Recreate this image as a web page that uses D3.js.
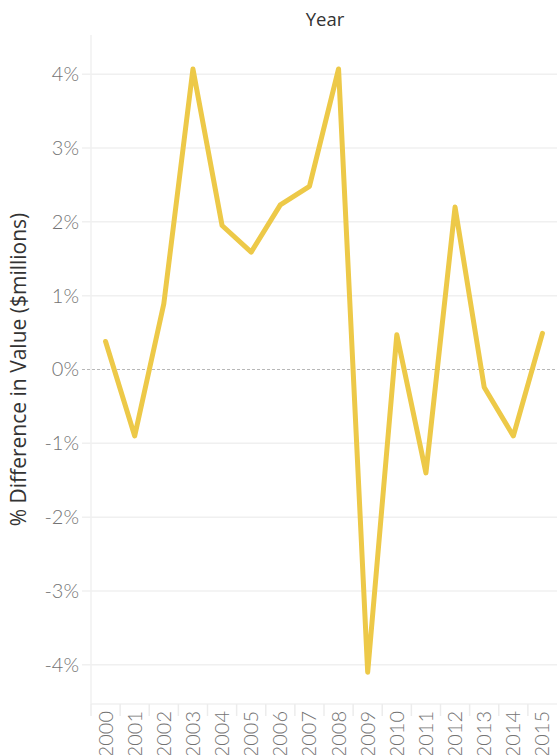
<!DOCTYPE html>
<html>
<head>
<meta charset="utf-8">
<script src="https://cdn.jsdelivr.net/npm/d3@7"></script>
<style>
  body { margin: 0; background: #fff; }
  svg { display: block; }
</style>
</head>
<body>
<svg id="canvas"></svg>
<script>
let years = ['2000','2001','2002','2003','2004','2005','2006','2007','2008','2009','2010','2011','2012','2013','2014','2015']
let pctDiff = [0.38, -0.90, 0.89, 4.07, 1.95, 1.59, 2.23, 2.48, 4.07, -4.10, 0.47, -1.40, 2.20, -0.24, -0.90, 0.49]
let yTicks = [-4, -3, -2, -1, 0, 1, 2, 3, 4]

let width = 557
let height = 755
let padLeft = 91
let padRight = 557
let padTop = 35
let padBottom = 704

let svg = d3.select('#canvas').attr('width', width).attr('height', height)

let xScale = d3.scaleBand().domain(years).range([padLeft, padRight]).padding(0)
let yScale = d3.scaleLinear().domain([-4.53, 4.53]).range([padBottom, padTop])

let xMid = (d) => xScale(d) + xScale.bandwidth() / 2

// gridlines
let grid = svg.append('g')
grid.selectAll('line.grid')
    .data(yTicks.filter((d) => d !== 0))
    .enter()
    .append('line')
    .attr('x1', padLeft - 9)
    .attr('x2', padRight)
    .attr('y1', (d) => yScale(d))
    .attr('y2', (d) => yScale(d))
    .attr('stroke', '#f0f0f0')
    .attr('stroke-width', 1.5)

grid.append('line')
    .attr('x1', padLeft - 9).attr('x2', padRight)
    .attr('y1', yScale(0)).attr('y2', yScale(0))
    .attr('stroke', '#b8b8b8')
    .attr('stroke-width', 1)
    .attr('stroke-dasharray', '3,2')

// left border of pane
svg.append('line')
    .attr('x1', padLeft).attr('x2', padLeft)
    .attr('y1', padTop).attr('y2', padBottom)
    .attr('stroke', '#f0f0f0')
    .attr('stroke-width', 1.5)

// y axis labels
let yAxis = d3.axisLeft(yScale)
    .tickValues(yTicks)
    .tickFormat((d) => d + '%')
    .tickSize(0)
    .tickPadding(12)

let yg = svg.append('g')
    .attr('transform', 'translate(' + padLeft + ',0)')
    .call(yAxis)
yg.select('.domain').remove()
yg.selectAll('text')
    .attr('font-family', 'Lato, sans-serif')
    .attr('font-weight', 300)
    .attr('font-size', 20)
    .attr('fill', '#737373')

// x axis header
let xAxis = d3.axisBottom(xScale).tickSize(0).tickPadding(0)
let xg = svg.append('g')
    .attr('transform', 'translate(0,' + padBottom + ')')
    .call(xAxis)
xg.select('.domain').remove()
xg.selectAll('text')
    .attr('font-family', 'Lato, sans-serif')
    .attr('font-weight', 300)
    .attr('font-size', 20)
    .attr('fill', '#737373')
    .attr('transform', 'rotate(-90)')
    .attr('text-anchor', 'end')
    .attr('dy', '0.35em')
    .attr('x', -7)
    .attr('y', 0)

svg.append('line')
    .attr('x1', padLeft).attr('x2', padRight)
    .attr('y1', padBottom).attr('y2', padBottom)
    .attr('stroke', '#f0f0f0')
    .attr('stroke-width', 1.5)

svg.append('g').selectAll('line')
    .data(years)
    .enter()
    .append('line')
    .attr('x1', (d) => xScale(d))
    .attr('x2', (d) => xScale(d))
    .attr('y1', padBottom)
    .attr('y2', padBottom + 12)
    .attr('stroke', '#ececec')
    .attr('stroke-width', 1.5)

// the line
let line = d3.line()
    .x((d, i) => xMid(years[i]))
    .y((d) => yScale(d))

svg.append('path')
    .datum(pctDiff)
    .attr('d', line)
    .attr('fill', 'none')
    .attr('stroke', '#edc948')
    .attr('stroke-width', 5)
    .attr('stroke-linejoin', 'round')
    .attr('stroke-linecap', 'round')

// titles
svg.append('text')
    .attr('x', 325)
    .attr('y', 26)
    .attr('text-anchor', 'middle')
    .attr('font-family', '"Open Sans", sans-serif')
    .attr('font-size', 18.5)
    .attr('fill', '#333')
    .text('Year')

svg.append('text')
    .attr('transform', 'translate(26,' + yScale(0) + ') rotate(-90)')
    .attr('text-anchor', 'middle')
    .attr('font-family', '"Open Sans", sans-serif')
    .attr('font-size', 21)
    .attr('fill', '#333')
    .text('% Difference in Value ($millions)')
</script>
</body>
</html>
